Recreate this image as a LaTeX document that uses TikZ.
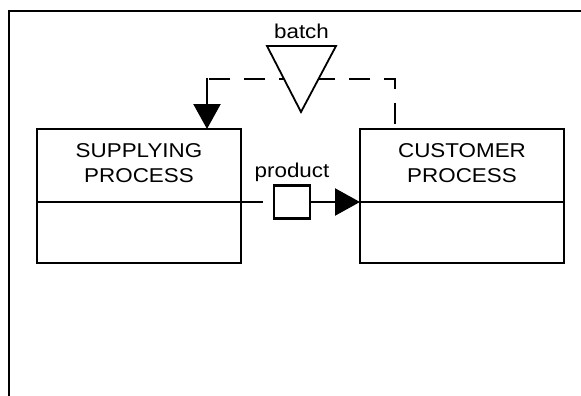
\documentclass[tikz,border=0pt]{standalone}
\usepackage{fontspec}
\setmainfont{Liberation Sans}[FakeStretch=1.12]
\usepackage{tikz}
\usetikzlibrary{arrows.meta,positioning,calc}

\begin{document}
\begin{tikzpicture}[x=1pt,y=-1pt,line width=2.3pt,
    every node/.style={font=\fontsize{20pt}{25pt}\selectfont,outer sep=0pt},
    procbox/.style={draw,minimum width=204pt,minimum height=73pt,align=center,inner sep=0pt,text depth=4pt},
    lowbox/.style={draw,minimum width=204pt,minimum height=61pt},
    prodbox/.style={draw,fill=white,minimum width=36pt,minimum height=33pt,inner sep=0pt},
    tag/.style={inner sep=0pt},
    flow/.style={-{Triangle[length=25pt,width=27pt]}},
    feedback/.style={dash pattern=on 21pt off 14pt,dash phase=30pt},
    batchtri/.style={draw,fill=white,line width=1.8pt,line join=miter}]
      \useasboundingbox (0,0) rectangle (581,396);
      \draw (9,396) -- (9,11) -- (581,11);
      \node[procbox,anchor=north west] (supply) at (37,129) {SUPPLYING\\PROCESS};
      \node[lowbox,below=0pt of supply] (supplylow) {};
      \node[procbox,right=119pt of supply] (cust) {CUSTOMER\\PROCESS};
      \node[lowbox,below=0pt of cust] (custlow) {};
      \node[prodbox,right=33pt of supply.south east] (product) {};
      \node[tag,above=4pt of product] (prodlabel) {product};
      \draw (supplylow.north east) -- ([xshift=-11pt]product.west);
      \draw[flow] (product.east) -- (custlow.north west);
      \coordinate (corner) at (207,79);
      \draw[feedback] ([xshift=35pt]cust.north west) |- (corner);
      \draw[flow] ([yshift=1pt]corner) -- (corner |- supply.north);
      \draw[batchtri] (267,46) -- (336,46) -- (301,112) -- cycle;
      \coordinate (batchtop) at (301.5,46);
      \node[tag,above=7pt of batchtop] (batchlabel) {batch};
    \end{tikzpicture}
\end{document}
